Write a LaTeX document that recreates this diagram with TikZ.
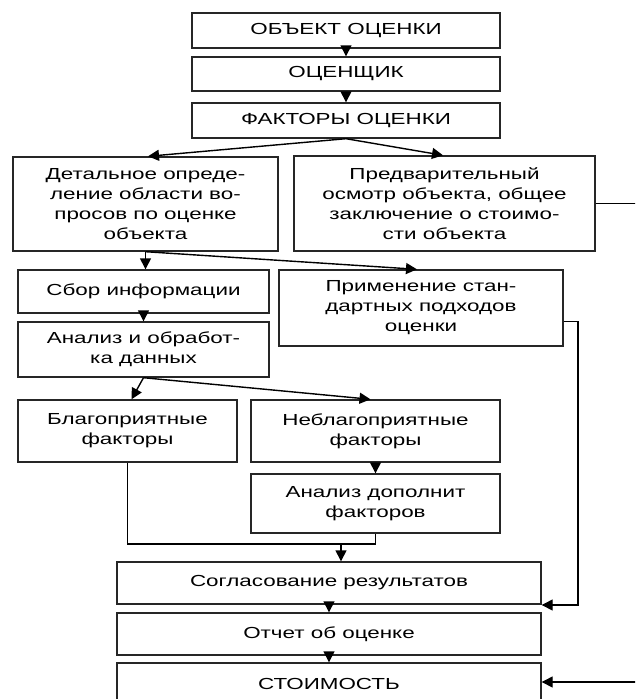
\documentclass[tikz,border=0pt]{standalone}
\usepackage{fontspec}
\setmainfont{Liberation Sans}[FakeStretch=1.4]
\usetikzlibrary{arrows.meta,calc}
\tikzset{
  blk/.style={draw=black!85, line width=1.4pt, fill=white, inner sep=0pt,
    align=center, font=\fontsize{16}{20}\selectfont},
  con/.style={draw=black, line width=1.4pt},
  arr/.style={con, -{Triangle[length=11pt,width=11pt]}},
}
\begin{document}
\begin{tikzpicture}[x=1pt,y=-1pt]
\path[use as bounding box, clip] (0,0) rectangle (635,699);
\fill[white] (0,0) rectangle (635,699);
% boxes
\node[blk, minimum width=308, minimum height=35] (obj) at (346,30.5) {ОБЪЕКТ ОЦЕНКИ};
\node[blk, minimum width=308, minimum height=34] (ocen) at (346,74) {ОЦЕНЩИК};
\node[blk, minimum width=308, minimum height=35] (fact) at (346,120.5) {ФАКТОРЫ ОЦЕНКИ};
\node[blk, minimum width=265, minimum height=94] (det) at (145.5,204) {Детальное опреде-\\ление области во-\\просов по оценке\\объекта};
\node[blk, minimum width=301, minimum height=95] (pred) at (444.5,203.5) {Предварительный\\осмотр объекта, общее\\заключение о стоимо-\\сти объекта};
\node[blk, minimum width=251, minimum height=43] (sbor) at (143.5,291.5) {Сбор информации};
\node[blk, minimum width=284, minimum height=76] (prim) at (421,308) {Применение стан-\\дартных подходов\\оценки};
\node[blk, minimum width=251, minimum height=55] (anal) at (143.5,349.5) {Анализ и обработ-\\ка данных};
\node[blk, minimum width=219, minimum height=62] (blag) at (127.5,431) {Благоприятные\\факторы};
\node[blk, minimum width=249, minimum height=62] (nebl) at (375.5,431) {Неблагоприятные\\факторы};
\node[blk, minimum width=249, minimum height=59] (dop) at (375.5,503.5) {Анализ дополнит\\факторов};
\node[blk, minimum width=424, minimum height=42] (sogl) at (329,583) {Согласование результатов};
\node[blk, minimum width=424, minimum height=42] (otch) at (329,634) {Отчет об оценке};
\node[blk, minimum width=424, minimum height=41] (stoim) at (329,683.5) {СТОИМОСТЬ};
% helper coordinates
\coordinate (m) at (341,544);
\coordinate (pr) at (578,605);
\coordinate (pe) at (645,682);
% connectors
\draw[arr] (obj.south) -- (ocen.north);
\draw[arr] (ocen.south) -- (fact.north);
\draw[arr] (fact.south) -- ($(det.north)+(2.5,0)$);
\draw[arr] (fact.south) -- ($(pred.north)+(-1.5,0)$);
\draw[arr] (det.south) -- (det.south |- sbor.north);
\draw[arr] (det.south) -- ($(prim.north)+(-4,0)$);
\draw[arr] (sbor.south) -- (sbor.south |- anal.north);
\draw[arr] (anal.south) -- ($(blag.north)+(4,0)$);
\draw[arr] (anal.south) -- ($(nebl.north)+(-5,0)$);
\draw[arr] (nebl.south) -- (dop.north);
\draw[con] (blag.south) -- (blag.south |- m) -- (dop.south |- m) -- (dop.south);
\draw[arr] (m) -- (m |- sogl.north);
\draw[arr] ($(prim.north east)+(0,52)$) -- (pr |- {$(prim.north east)+(0,52)$}) -- (pr) -- (pr -| sogl.east);
\draw[arr] (pred.east) -- (pe |- pred.east) -- (pe) -- (pe -| stoim.east);
\draw[arr] (sogl.south) -- (otch.north);
\draw[arr] (otch.south) -- (stoim.north);
\end{tikzpicture}
\end{document}
